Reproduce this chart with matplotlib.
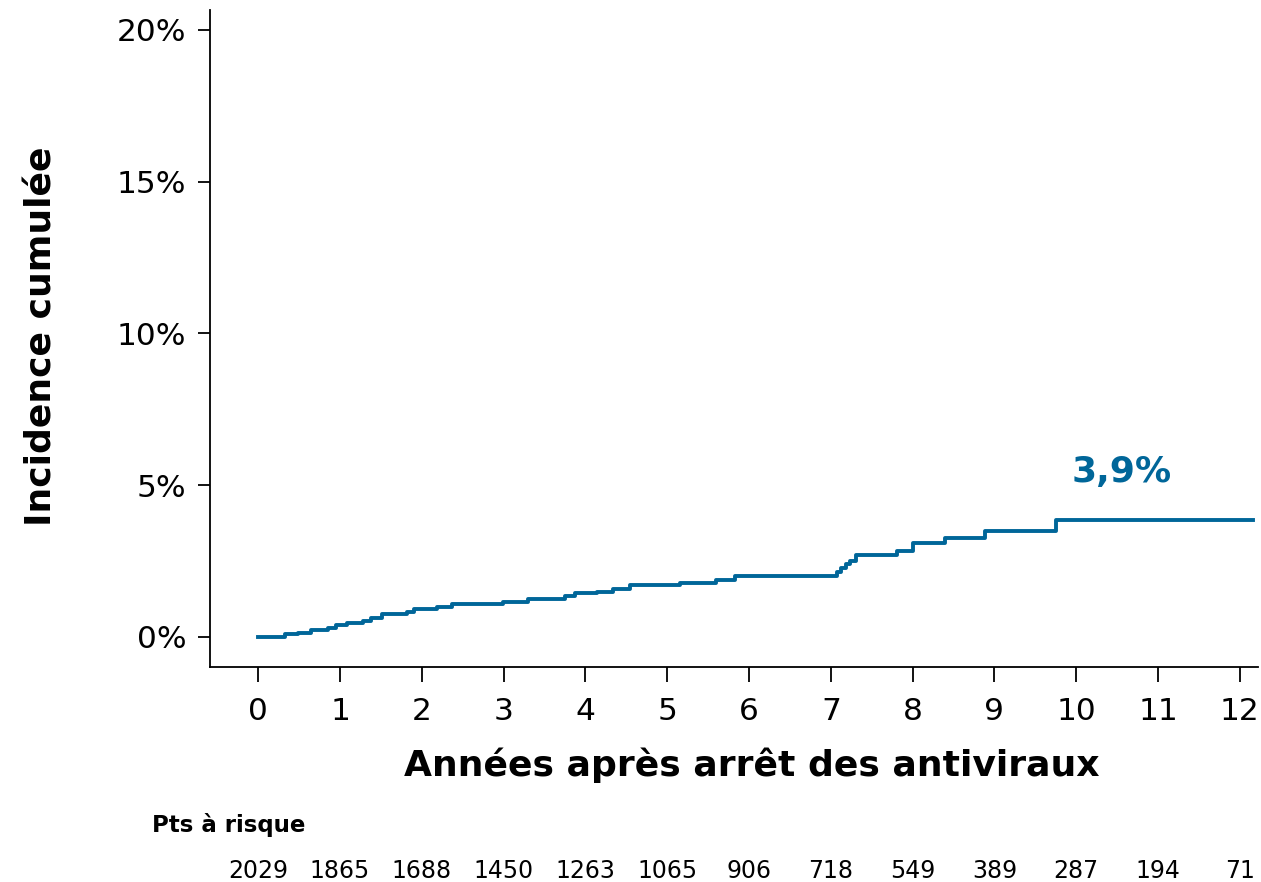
import numpy as np
import matplotlib.pyplot as plt

# step times (years) and cumulative incidence (%) after each step
times = [0, 0.33, 0.49, 0.64, 0.85, 0.95, 1.08, 1.28, 1.38, 1.51, 1.82, 1.90,
         2.18, 2.37, 2.99, 3.30, 3.75, 3.87, 4.14, 4.34, 4.54, 5.16, 5.60, 5.83,
         7.07, 7.13, 7.19, 7.24, 7.31, 7.81, 8.00, 8.40, 8.88, 9.75, 12.16]
incid = [0, 0.08, 0.14, 0.23, 0.31, 0.40, 0.47, 0.54, 0.63, 0.74, 0.82, 0.91,
         1.00, 1.08, 1.16, 1.25, 1.35, 1.44, 1.49, 1.59, 1.72, 1.79, 1.88, 2.01,
         2.15, 2.26, 2.39, 2.51, 2.69, 2.84, 3.10, 3.25, 3.49, 3.85, 3.85]

years = list(range(0, 13))
at_risk = [2029, 1865, 1688, 1450, 1263, 1065, 906, 718, 549, 389, 287, 194, 71]
yticks = [0, 5, 10, 15, 20]
color = '#006699'

plt.rcParams['font.family'] = ['DejaVu Sans']
fig = plt.figure(figsize=(12.61, 8.82), dpi=100)
ax = fig.add_axes([0.1665, 0.2438, 0.831, 0.745])

ax.step(times, incid, where='post', color=color, lw=2.8)
ax.text(10.55, 5.45, '3,9%', color=color, fontsize=26, fontweight='bold',
        ha='center', va='center')

ax.set_xlim(-0.59, 12.22)
ax.set_ylim(-0.99, 20.66)
ax.set_xticks(years)
ax.set_yticks(yticks)
ax.set_yticklabels([f'{v}%' for v in yticks])
ax.tick_params(axis='x', labelsize=22.5, length=10.5, width=1.3, pad=11)
ax.tick_params(axis='y', labelsize=22.5, length=9, width=1.3, pad=8)
for s in ['top', 'right']:
    ax.spines[s].set_visible(False)
for s in ['left', 'bottom']:
    ax.spines[s].set_linewidth(1.3)

ax.set_xlabel('Années après arrêt des antiviraux', fontsize=26, fontweight='bold')
ax.xaxis.set_label_coords(0.517, -0.123)
ax.set_ylabel('Incidence cumulée', fontsize=26, fontweight='bold')
ax.yaxis.set_label_coords(-0.145, 0.504)

fig.text(152 / 1261, 1 - 825 / 882, 'Pts à risque', fontsize=16.5, fontweight='bold',
         ha='left', va='center')
for x, n in zip(years, at_risk):
    ax.text(x, -0.31, str(n), transform=ax.get_xaxis_transform(), ha='center', va='center',
            fontsize=17)

fig.savefig('out.png', dpi=100)
